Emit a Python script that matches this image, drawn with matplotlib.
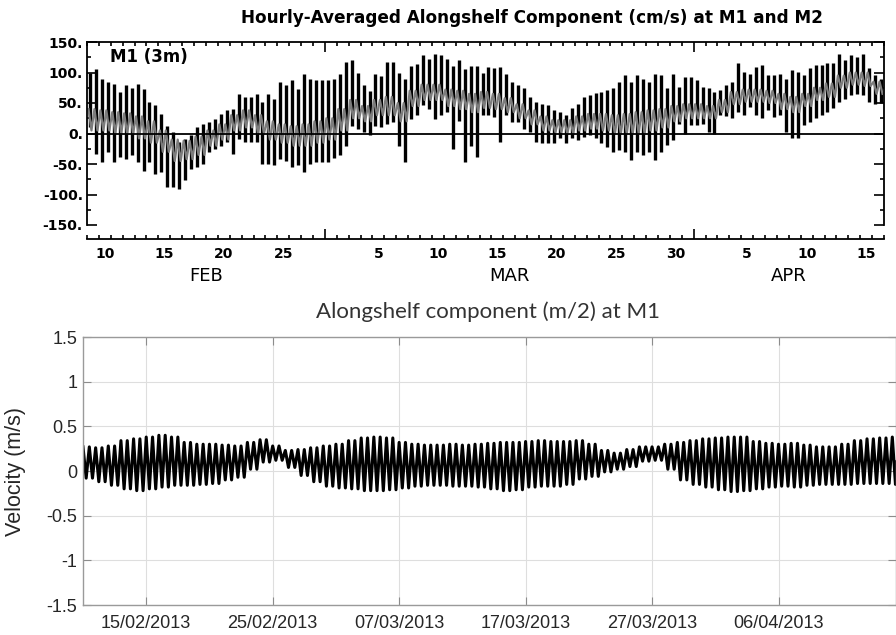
import matplotlib
matplotlib.use('Agg')
import matplotlib.pyplot as plt
import matplotlib.dates as mdates
import numpy as np
import pandas as pd

# upper panel: M1 (3m) alongshelf, cm/s
# high / low of each semidiurnal cycle, two per day, 9 Feb - 16 Apr 2013
m1_hi = [100, 106, 90, 85, 81, 68, 79, 75, 81, 73, 51, 46, 32, 13, 2, -14, -9, -3, 10, 16,
         19, 24, 32, 38, 40, 65, 60, 60, 65, 51, 65, 57, 84, 80, 87, 73, 98, 90, 87, 87,
         87, 90, 98, 117, 120, 100, 79, 70, 98, 95, 117, 117, 100, 90, 111, 114, 128, 122, 130, 128,
         122, 111, 120, 105, 111, 111, 100, 109, 107, 109, 98, 85, 79, 74, 60, 52, 49, 46, 38, 36,
         30, 41, 49, 60, 63, 66, 68, 71, 74, 85, 96, 85, 96, 90, 85, 98, 96, 74, 98, 77,
         93, 93, 87, 77, 74, 68, 71, 80, 85, 115, 101, 98, 109, 112, 96, 96, 98, 90, 104, 101,
         96, 107, 112, 112, 115, 115, 131, 120, 128, 126, 131, 107, 96, 90]
m1_lo = [10, -33, -47, -30, -47, -39, -42, -35, -47, -61, -47, -66, -63, -88, -88, -91, -77, -58, -55, -50,
         -31, -25, -20, -14, -33, -9, -14, -14, -14, -50, -50, -52, -42, -45, -55, -52, -63, -50, -47, -47,
         -47, -40, -36, -20, 13, 8, 2, -3, 13, 10, 16, 19, -20, -47, 24, 30, 46, 40, 24, 30,
         35, -25, 20, -47, -20, -38, 30, 30, 27, -14, 30, 19, 19, 8, 3, -14, -16, -16, -16, -8,
         -16, -8, -11, -5, -3, -8, -16, -22, -30, -27, -30, -44, -30, -36, -30, -44, -30, -19, -11, 16,
         0, 14, 14, 16, 3, 0, 30, 28, 25, 36, 30, 44, 30, 25, 38, 27, 30, 3, -8, -8,
         14, 19, 25, 30, 36, 41, 52, 57, 63, 65, 63, 52, 49, 50]

# grey M2 trace, daily high / low, 9 Feb - 16 Apr 2013
m2_hi = [40, 38, 35, 33, 28, 20, 5, -10, -12, -5, 5, 15, 30, 38, 30, 20, 15, 12, 15, 20,
         25, 40, 55, 45, 55, 60, 50, 70, 80, 80, 72, 70, 65, 68, 65, 58, 48, 38, 28, 22,
         22, 28, 32, 32, 30, 32, 35, 38, 40, 45, 48,
         48, 45, 55, 68, 72, 72, 70, 65, 60, 65, 75, 82, 95, 100, 100, 85]
m2_lo = [5, 5, 0, 0, -8, -15, -30, -45, -42, -35, -20, -10, 5, 10, 0, -10, -15, -20, -20, -15,
         -10, 5, 25, 20, 30, 30, 20, 45, 55, 55, 45, 40, 35, 42, 40, 35, 25, 15, 5, 2,
         0, 5, 8, 5, 0, 0, 0, 5, 10, 20, 25,
         25, 25, 35, 48, 52, 52, 50, 40, 35, 45, 55, 60, 75, 80, 78, 65]

# lower panel: M1 alongshelf, m/s, daily high / low, 10 Feb - 15 Apr 2013
vel_hi = [0.27, 0.26, 0.28, 0.34, 0.36, 0.38, 0.40, 0.38, 0.32, 0.30, 0.30, 0.29, 0.28, 0.32, 0.35,
          0.28, 0.23, 0.24, 0.26,
          0.28, 0.30, 0.34, 0.37, 0.38, 0.37, 0.32, 0.30, 0.29, 0.29, 0.30, 0.29, 0.30, 0.31, 0.32, 0.32,
          0.33, 0.34, 0.33, 0.33, 0.34, 0.30, 0.23, 0.20, 0.24, 0.27, 0.27, 0.30, 0.32, 0.34, 0.36,
          0.37, 0.38, 0.38, 0.33, 0.31, 0.30, 0.31, 0.29, 0.27, 0.27, 0.30, 0.34, 0.36, 0.37, 0.38]
vel_lo = [-0.08, -0.12, -0.16, -0.20, -0.22, -0.20, -0.18, -0.16, -0.16, -0.15, -0.14, -0.10, -0.07, 0.02, 0.10,
          0.12, 0.04, -0.05, -0.12,
          -0.17, -0.19, -0.20, -0.22, -0.22, -0.21, -0.19, -0.17, -0.16, -0.16, -0.17, -0.17, -0.18, -0.20, -0.22, -0.21,
          -0.18, -0.17, -0.17, -0.15, -0.09, -0.06, -0.01, 0.02, 0.05, 0.11, 0.12, 0.02, -0.10, -0.15, -0.18,
          -0.21, -0.23, -0.22, -0.20, -0.18, -0.17, -0.18, -0.16, -0.15, -0.15, -0.15, -0.14, -0.14, -0.14, -0.15]

cms_ticks = [-150, -100, -50, 0, 50, 100, 150]
cms_labels = ['-150.', '-100.', '-50.', '0.', '50.', '100.', '150.']
day_ticks = ['2013-02-10 12:00', '2013-02-15 12:00', '2013-02-20 12:00', '2013-02-25 12:00',
             '2013-03-05 12:00', '2013-03-10 12:00', '2013-03-15 12:00', '2013-03-20 12:00',
             '2013-03-25 12:00', '2013-03-30 12:00', '2013-04-05 12:00', '2013-04-10 12:00',
             '2013-04-15 12:00']
day_labels = ['10', '15', '20', '25', '5', '10', '15', '20', '25', '30', '5', '10', '15']
month_starts = ['2013-03-01', '2013-04-01']
month_mid = ['2013-02-19', '2013-03-16 12:00', '2013-04-09']
month_names = ['FEB', 'MAR', 'APR']

vel_ticks = [-1.5, -1, -0.5, 0, 0.5, 1, 1.5]
vel_labels = ['-1.5', '-1', '-0.5', '0', '0.5', '1', '1.5']
date_ticks = ['2013-02-15', '2013-02-25', '2013-03-07', '2013-03-17', '2013-03-27', '2013-04-06']
date_labels = ['15/02/2013', '25/02/2013', '07/03/2013', '17/03/2013', '27/03/2013', '06/04/2013']

fig = plt.figure(figsize=(8.96, 6.35), dpi=100)

# ---------------- upper panel
ax1 = fig.add_axes([87 / 896, 1 - 225 / 635, 797 / 896, 183 / 635])
t1 = mdates.date2num(pd.date_range('2013-02-09 06:00', periods=len(m1_hi), freq='12h'))
ax1.vlines(t1, m1_lo, m1_hi, color='black', lw=2.4)
t2 = mdates.date2num(pd.date_range('2013-02-09 03:00', periods=4 * len(m2_hi), freq='6h'))
m2 = np.column_stack([m2_hi, m2_lo, m2_hi, m2_lo]).ravel()
ax1.plot(t2, m2, color='#7c7c7c', lw=1.6)
ax1.axhline(0, color='black', lw=1.3)

ax1.set_xlim(mdates.datestr2num('2013-02-09'), mdates.datestr2num('2013-04-17'))
ax1.set_ylim(-150, 150)
ax1.set_yticks(cms_ticks, labels=cms_labels, fontweight='bold', fontsize=10)
ax1.yaxis.set_minor_locator(plt.MultipleLocator(25))
ax1.set_xticks(mdates.datestr2num(month_starts))
ax1.xaxis.set_minor_locator(mdates.DayLocator())
ax1.tick_params(axis='both', which='both', direction='in', top=True, right=True,
                labelbottom=False, width=1.2)
ax1.tick_params(which='major', length=7)
ax1.tick_params(which='minor', length=3)
ax1.tick_params(axis='y', pad=3)
for s in ax1.spines.values():
    s.set_linewidth(1.3)
ax1.spines['bottom'].set_position(('outward', 10))

sec = ax1.secondary_xaxis('bottom')
sec.set_xticks(mdates.datestr2num(day_ticks), labels=day_labels, fontweight='bold', fontsize=10)
sec.tick_params(length=0, pad=16)
sec.spines['bottom'].set_visible(False)

sec2 = ax1.secondary_xaxis('bottom')
sec2.set_xticks(mdates.datestr2num(month_mid), labels=month_names, fontsize=13)
sec2.tick_params(length=0, pad=30)
sec2.spines['bottom'].set_visible(False)

ax1.text(0.029, 0.918, 'M1 (3m)', transform=ax1.transAxes, fontsize=12,
         fontweight='bold', va='center')
fig.text(532 / 896, 1 - 18 / 635, 'Hourly-Averaged Alongshelf Component (cm/s) at M1 and M2',
         ha='center', va='center', fontsize=12.2, fontweight='bold')

# ---------------- lower panel
ax2 = fig.add_axes([83 / 896, 1 - 605 / 635, 813 / 896, 268 / 635])
t3 = mdates.date2num(pd.date_range('2013-02-10 00:00', periods=4 * len(vel_hi), freq='6h'))
vel = np.column_stack([vel_hi, vel_lo, vel_hi, vel_lo]).ravel()
ax2.plot(t3, vel, color='black', lw=2.2)

ax2.set_xlim(mdates.datestr2num('2013-02-10'), mdates.datestr2num('2013-04-15 07:00'))
ax2.set_ylim(-1.5, 1.5)
ax2.set_yticks(vel_ticks, labels=vel_labels, family='Liberation Sans')
ax2.set_xticks(mdates.datestr2num(date_ticks), labels=date_labels, family='Liberation Sans')
ax2.grid(True, color='#dedede', lw=0.8)
ax2.set_axisbelow(True)
ax2.tick_params(direction='in', length=6, top=True, right=True, color='#8c8c8c',
                labelcolor='#262626', labelsize=13)
ax2.tick_params(axis='x', pad=7)
ax2.tick_params(axis='y', pad=4)
for s in ax2.spines.values():
    s.set_color('#9a9a9a')
    s.set_linewidth(1.0)
ax2.set_ylabel('Velocity (m/s)', fontsize=15.5, color='#262626', family='Liberation Sans')
ax2.yaxis.set_label_coords(-0.07, 0.5)
fig.text(488 / 896, 1 - 312 / 635, 'Alongshelf component (m/2) at M1',
         ha='center', va='center', fontsize=16, family='Lato', color='#333333')

fig.savefig('out.png', dpi=100)
